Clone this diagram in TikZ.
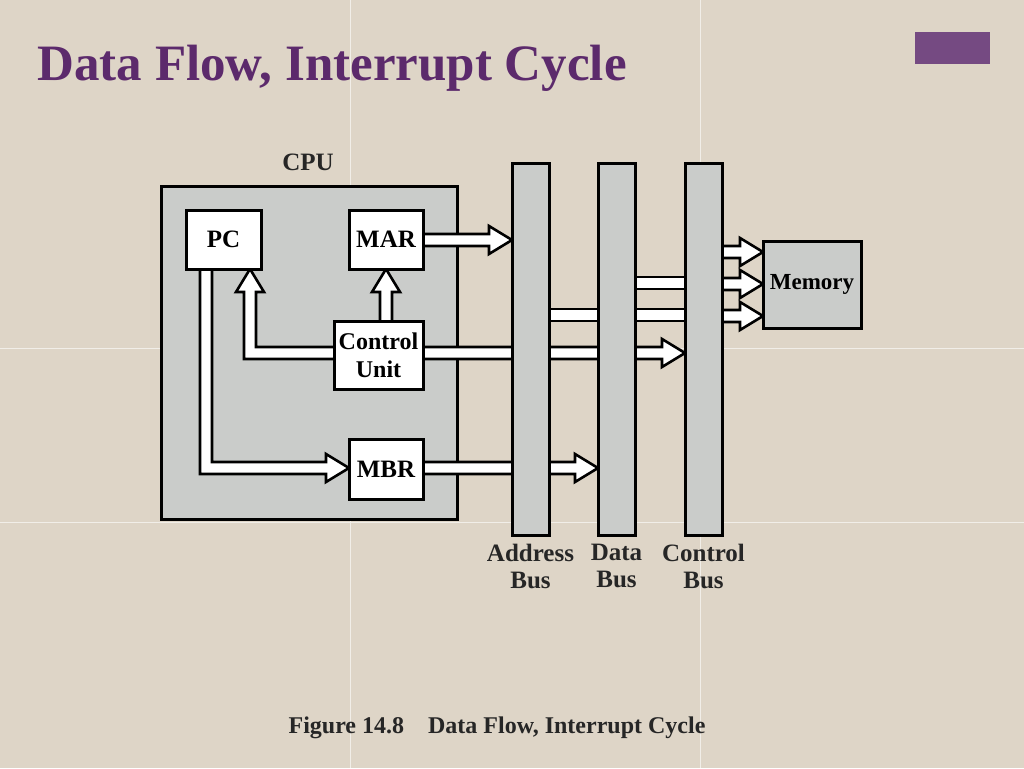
\documentclass[tikz,border=0pt]{standalone}
\usepackage{fontspec}
\setmainfont{Liberation Serif}
\begin{document}
\begin{tikzpicture}[x=1pt,y=-1pt,
  box/.style={draw=black,line width=3pt,fill=white,inner sep=0pt,font=\fontsize{25}{27}\selectfont\bfseries,align=center},
  bus/.style={draw=black,line width=3pt,fill=busgray},
  harrow/.style={draw=black,line width=2.6pt,fill=white,line join=miter},
  lbl/.style={font=\fontsize{25}{27}\selectfont\bfseries,align=center,text=black!85}]
\definecolor{bg}{RGB}{222,213,199}
\definecolor{busgray}{RGB}{202,204,202}
\definecolor{ttl}{RGB}{92,42,108}
\useasboundingbox (0,0) rectangle (1024,768);
\fill[bg] (0,0) rectangle (1024,768);
\draw[white,opacity=.6,line width=1pt] (350,0)--(350,768) (700,0)--(700,768) (0,348)--(1024,348) (0,522)--(1024,522);
\node[anchor=base west,text=ttl,font=\fontsize{51}{55}\selectfont\bfseries] (title) at (34,80) {Data Flow, Interrupt Cycle};
\fill[ttl!85] (915,32) rectangle (990,64);
\node[lbl] (cpul) at (308,162) {CPU};
\draw[bus] (161,186) rectangle (457,519);
% plain shaft segments
\draw[harrow] (540,309) rectangle (605,321);
\draw[harrow] (625,277) rectangle (692,289);
\draw[harrow] (625,309) rectangle (692,321);
% arrows
\draw[harrow] (415,234)--(489,234)--(489,226)--(512,240)--(489,254)--(489,246)--(415,246)--cycle;
\draw[harrow] (415,347)--(662,347)--(662,339)--(685,353)--(662,367)--(662,359)--(415,359)--cycle;
\draw[harrow] (415,462)--(575,462)--(575,454)--(598,468)--(575,482)--(575,474)--(415,474)--cycle;
\draw[harrow] (340,359)--(244,359)--(244,292)--(236,292)--(250,269)--(264,292)--(256,292)--(256,347)--(340,347)--cycle;
\draw[harrow] (380,330)--(380,292)--(372,292)--(386,269)--(400,292)--(392,292)--(392,330)--cycle;
\draw[harrow] (200,262)--(200,474)--(326,474)--(326,482)--(349,468)--(326,454)--(326,462)--(212,462)--(212,262)--cycle;
\foreach \yy in {252,284,316}{
 \draw[harrow] (715,\yy-6)--(740,\yy-6)--(740,\yy-14)--(763,\yy)--(740,\yy+14)--(740,\yy+6)--(715,\yy+6)--cycle;}
% boxes
\node[box,minimum width=75pt,minimum height=59pt] (pc) at (223.5,239.5) {PC};
\node[box,minimum width=74pt,minimum height=59pt] (mar) at (386,239.5) {MAR};
\node[box,minimum width=89pt,minimum height=68pt,font=\fontsize{24}{28}\selectfont\bfseries] (cu) at (378.5,355) {Control\\Unit};
\node[box,minimum width=74pt,minimum height=60pt] (mbr) at (386,469) {MBR};
% buses
\node[bus,minimum width=37pt,minimum height=372pt,inner sep=0pt] (ab) at (530.5,349) {};
\node[bus,minimum width=37pt,minimum height=372pt,inner sep=0pt] (db) at (616.5,349) {};
\node[bus,minimum width=37pt,minimum height=372pt,inner sep=0pt] (cb) at (703.5,349) {};
\node[box,fill=busgray,minimum width=98pt,minimum height=87pt,font=\fontsize{23}{26}\selectfont\bfseries] (mem) at (812,284.5) {Memory};
\node[lbl,anchor=north] (abl) at (ab.south) [yshift=-4pt] {Address\\Bus};
\node[lbl,anchor=north] (dbl) at (db.south) [yshift=-4pt] {Data\\Bus};
\node[lbl,anchor=north] (cbl) at (cb.south) [yshift=-4pt] {Control\\Bus};
\node[lbl,font=\fontsize{24}{27}\selectfont\bfseries] (cap) at (497,728) {Figure 14.8\hspace{1em}Data Flow, Interrupt Cycle};
\end{tikzpicture}
\end{document}
